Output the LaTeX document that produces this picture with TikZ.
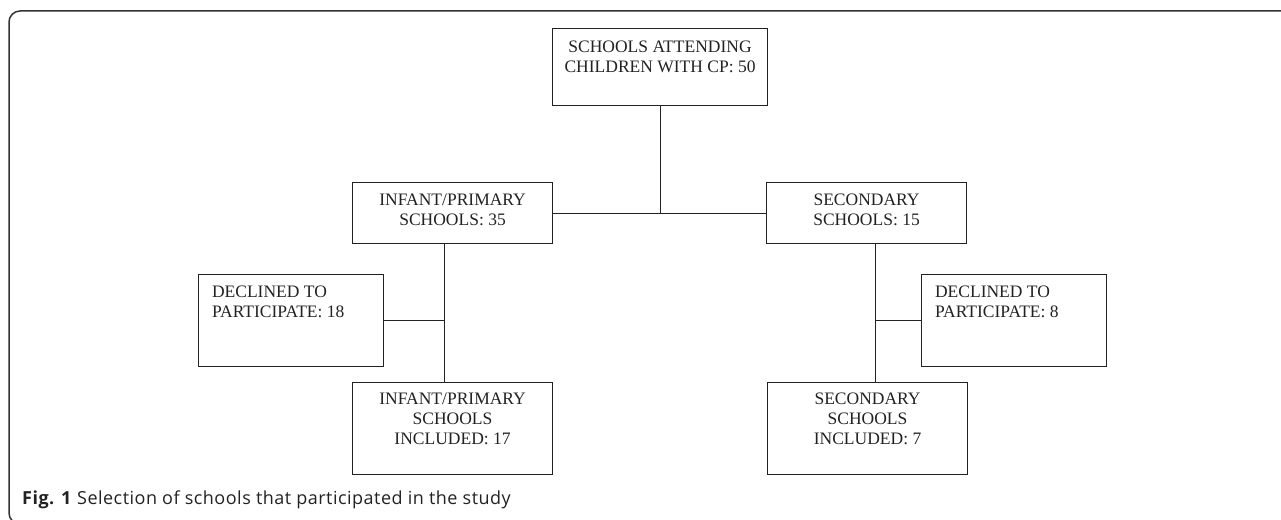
\documentclass[tikz,border=0pt]{standalone}
\usepackage{fontspec}
\setmainfont{Liberation Serif}
\newfontfamily\capfont[LetterSpace=2.7]{Open Sans}
\definecolor{ink}{HTML}{222222}
\definecolor{framec}{HTML}{333333}
\newcommand\boxtxt[5]{\parbox[c][#2][t]{#1}{#3\fontsize{17.5pt}{20pt}\selectfont\rule{0pt}{#4}#5}}
\begin{document}
\begin{tikzpicture}[x=1pt,y=-1pt,
  box/.style={draw=ink, line width=1.1pt, inner sep=0pt, anchor=north west, text=ink},
  conn/.style={draw=ink, line width=1.1pt},
  frameline/.style={draw=framec, line width=1.5pt}]
\useasboundingbox (0,0) rectangle (1281,519);
\begin{scope}
\clip (0,0) rectangle (1281,519);
\draw[frameline, rounded corners=11pt] (9,11) rectangle (1320,524);
\end{scope}
% boxes
\node[box, minimum width=215pt, minimum height=77pt] (top) at (552,28)
  {\boxtxt{215pt}{77pt}{\centering}{24pt}{SCHOOLS ATTENDING\\CHILDREN WITH CP: 50}};
\node[box, minimum width=200pt, minimum height=61pt] (inf) at (352,182)
  {\boxtxt{200pt}{61pt}{\centering}{23pt}{INFANT/PRIMARY\\SCHOOLS: 35}};
\node[box, minimum width=200pt, minimum height=61pt] (sec) at (766,182)
  {\boxtxt{200pt}{61pt}{\centering}{23pt}{SECONDARY\\SCHOOLS: 15}};
\node[box, minimum width=185pt, minimum height=92pt] (decl) at (198,274)
  {\boxtxt{185pt}{92pt}{\raggedright\leftskip=13.5pt}{22.5pt}{DECLINED TO\\PARTICIPATE: 18}};
\node[box, minimum width=185pt, minimum height=92pt] (decr) at (921,274)
  {\boxtxt{185pt}{92pt}{\raggedright\leftskip=13.5pt}{22.5pt}{DECLINED TO\\PARTICIPATE: 8}};
\node[box, minimum width=200pt, minimum height=92pt] (incl) at (352,382)
  {\boxtxt{200pt}{92pt}{\centering}{22pt}{INFANT/PRIMARY\\SCHOOLS\\INCLUDED: 17}};
\node[box, minimum width=200pt, minimum height=92pt] (incr) at (767,382)
  {\boxtxt{200pt}{92pt}{\centering}{22pt}{SECONDARY\\SCHOOLS\\INCLUDED: 7}};
% connectors
\coordinate (lx) at (444.5,0);
\coordinate (rx) at (875.5,0);
\draw[conn] (inf.east) -- (sec.west);
\draw[conn] (top.south) -- (top.south |- inf.east);
\draw[conn] (inf.south -| lx) -- (incl.north -| lx);
\draw[conn] (decl.east) -- (decl.east -| lx);
\draw[conn] (sec.south -| rx) -- (incr.north -| rx);
\draw[conn] (decr.west) -- (decr.west -| rx);
% caption
\node[anchor=base west, inner sep=0pt, text=ink, font=\capfont\fontsize{18pt}{21pt}\selectfont] (cap) at (22,504)
  {\textbf{Fig. 1} Selection of schools that participated in the study};
\end{tikzpicture}
\end{document}
